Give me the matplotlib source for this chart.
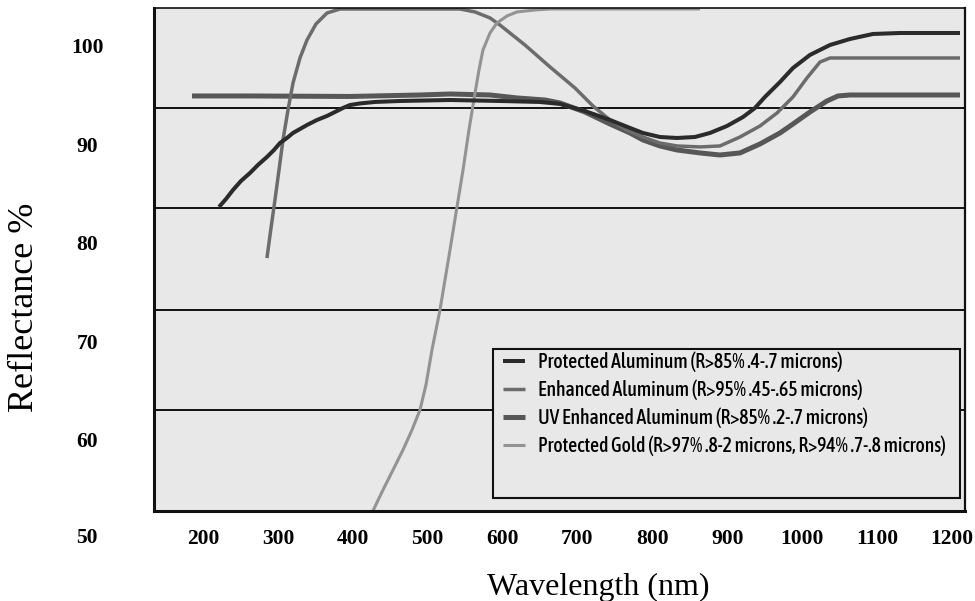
import matplotlib
matplotlib.use("Agg")
import matplotlib.pyplot as plt
from matplotlib.patches import Rectangle
from matplotlib import font_manager as fm
from matplotlib.font_manager import FontProperties

# ---- data ----
wl_protected_al = [221.4, 230.7, 240.1, 250.7, 262.7, 273.4, 285.4, 294.8, 302.8, 312.1, 320.2, 329.5, 338.9,
                   352.2, 365.6, 376.2, 386.9, 396.3, 409.6, 429.6, 463.0, 529.8, 596.5, 649.9, 676.6, 710.0,
                   743.4, 770.1, 787.4, 810.1, 832.8, 856.9, 876.9, 899.6, 921.0, 937.0, 950.3, 970.4, 987.7,
                   1010.4, 1037.1, 1063.8, 1094.5, 1130.6, 1210.7]
r_protected_al = [83.64, 84.45, 85.37, 86.28, 87.09, 87.91, 88.72, 89.43, 90.14, 90.65, 91.16, 91.56, 91.97,
                  92.48, 92.89, 93.29, 93.70, 94.00, 94.16, 94.31, 94.41, 94.51, 94.41, 94.31, 94.11, 93.39,
                  92.48, 91.67, 91.16, 90.75, 90.65, 90.75, 91.16, 91.87, 92.78, 93.70, 94.82, 96.34, 97.76,
                  99.09, 100.10, 100.71, 101.22, 101.32, 101.32]

wl_enhanced_al = [285.4, 290.8, 296.1, 301.5, 306.8, 313.5, 320.2, 329.5, 338.9, 350.9, 365.6, 382.9, 543.1,
                  563.2, 583.2, 596.5, 629.9, 663.3, 696.7, 720.7, 743.4, 763.4, 787.4, 810.1, 832.8, 863.6,
                  890.2, 917.0, 943.7, 966.4, 987.7, 1006.4, 1023.8, 1037.1, 1210.7]
r_enhanced_al = [78.45, 81.50, 84.35, 87.40, 90.45, 93.50, 96.24, 98.78, 100.61, 102.24, 103.35, 103.76, 103.76,
                 103.46, 102.85, 102.13, 100.10, 97.87, 95.73, 93.90, 92.48, 91.56, 90.75, 90.14, 89.84, 89.74,
                 89.84, 90.75, 91.87, 93.19, 94.82, 96.75, 98.37, 98.78, 98.78]

wl_uv_al = [185.3, 262.7, 396.3, 489.7, 529.8, 583.2, 619.2, 656.6, 676.6, 710.0, 743.4, 770.1, 787.4, 810.1,
            832.8, 863.6, 890.2, 917.0, 943.7, 970.4, 987.7, 1010.4, 1033.1, 1047.8, 1063.8, 1210.7]
r_uv_al = [94.92, 94.92, 94.87, 95.02, 95.12, 95.02, 94.72, 94.51, 94.21, 93.29, 92.07, 91.16, 90.45, 89.84,
           89.43, 89.13, 88.92, 89.13, 90.04, 91.16, 92.07, 93.29, 94.41, 94.92, 95.02, 95.02]

wl_gold = [425.6, 440.3, 453.7, 467.0, 479.0, 489.7, 497.7, 505.7, 516.4, 523.1, 529.8, 539.1, 547.2, 555.1,
           563.2, 568.5, 573.8, 583.2, 592.5, 605.9, 619.2, 643.2, 663.3, 863.6]
r_gold = [52.54, 54.88, 56.91, 58.94, 60.97, 63.01, 65.55, 69.10, 73.17, 76.22, 79.27, 83.64, 87.40, 91.46,
          95.22, 97.56, 99.59, 101.32, 102.34, 103.05, 103.46, 103.66, 103.76, 103.76]

grid_levels = [93.7, 83.5, 73.2, 63.0]

x_ticks = [200, 300, 400, 500, 600, 700, 800, 900, 1000, 1100, 1200]
y_ticks = [60, 70, 80, 90, 100]
y_extra_label = 50

series_names = [
    "Protected Aluminum (R>85% .4-.7 microns)",
    "Enhanced Aluminum (R>95% .45-.65 microns)",
    "UV Enhanced Aluminum (R>85% .2-.7 microns)",
    "Protected Gold (R>97% .8-2 microns, R>94% .7-.8 microns)",
]

# ---- pick a narrow sans font for the legend if one is installed ----
def pick_narrow_font():
    bad = ("bold", "italic", "oblique", "light", "thin", "black", "heavy", "extra", "semi")
    pref = ["narrow", "condensed"]
    best = None
    for f in fm.fontManager.ttflist:
        fn = f.fname.lower().replace("\\", "/").split("/")[-1]
        if not any(p in fn or p in f.name.lower() for p in pref):
            continue
        if "mono" in fn or "serif" in fn or "cjk" in fn:
            continue
        if any(b in fn for b in bad) and "medium" not in fn:
            continue
        score = 0
        if "medium" in fn:
            score += 2
        if "regular" in fn or fn.endswith("narrow.ttf") or fn.endswith("condensed.ttf"):
            score += 1
        if best is None or score > best[0]:
            best = (score, f.fname)
    return best[1] if best else None

narrow_path = pick_narrow_font()

# ---- figure ----
W, H = 975, 601
fig = plt.figure(figsize=(W / 100, H / 100), dpi=100)
fig.patch.set_facecolor("white")
L, R, T, B = 154, 965, 8, 511
ax = fig.add_axes([L / W, 1 - B / H, (R - L) / W, (B - T) / H])
bg = "#e8e8e8"
ax.set_facecolor(bg)
ax.set_xlim(134.6, 1217.4)
ax.set_ylim(52.74, 103.86)

for g in grid_levels:
    ax.axhline(g, color="#111111", lw=1.4, zorder=1)

ax.plot(wl_uv_al, r_uv_al, color="#575757", lw=3.6, zorder=3, solid_capstyle="butt", label=series_names[2])
ax.plot(wl_protected_al, r_protected_al, color="#2b2b2b", lw=2.9, zorder=4, solid_capstyle="butt", label=series_names[0])
ax.plot(wl_enhanced_al, r_enhanced_al, color="#6c6c6c", lw=2.5, zorder=3, solid_capstyle="butt", label=series_names[1])
ax.plot(wl_gold, r_gold, color="#939393", lw=2.2, zorder=3, solid_capstyle="butt", label=series_names[3])

for s, lw in zip(["left", "bottom", "top", "right"], [2.2, 2.2, 1.2, 1.6]):
    ax.spines[s].set_linewidth(lw)
    ax.spines[s].set_color("#111111")
    ax.spines[s].set_zorder(6)

tick_font = dict(family=["Liberation Serif", "DejaVu Serif"], weight="bold", size=15.5)
ax.set_xticks(x_ticks)
ax.set_xticklabels([str(v) for v in x_ticks], fontdict=tick_font)
ax.set_yticks(y_ticks)
ax.set_yticklabels([str(v) for v in y_ticks], fontdict=tick_font, ha="center")
ax.tick_params(axis="x", length=0, pad=13)
ax.tick_params(axis="y", length=0, pad=48)
ax.text(-(L - 87) / (R - L), y_extra_label, str(y_extra_label), transform=ax.get_yaxis_transform(),
        ha="center", va="center", fontdict=tick_font, clip_on=False)

lab_font = dict(family=["Liberation Serif", "DejaVu Serif"])
ax.set_xlabel("Wavelength (nm)", fontsize=23, **lab_font)
ax.xaxis.set_label_coords((598 - L) / (R - L), -(587 - B) / (B - T))
ax.xaxis.label.set_va("center")
ax.set_ylabel("Reflectance %", fontsize=26, **lab_font)
ax.yaxis.set_label_coords(-(L - 25) / (R - L), (B - 307) / (B - T))
ax.yaxis.label.set_va("center")

# legend box
rect = Rectangle(((493 - L) / (R - L), (B - 498) / (B - T)), (960 - 493) / (R - L), (498 - 349) / (B - T),
                 transform=ax.transAxes, facecolor=bg, edgecolor="#111111", lw=1.5, zorder=7)
ax.add_patch(rect)

handles, labels = ax.get_legend_handles_labels()
order = [labels.index(n) for n in series_names]
hs = [handles[i] for i in order]
ls_ = [labels[i] for i in order]

# target legend geometry (pixels, top-left origin)
tgt_text_left, tgt_text_right = 538, 945
tgt_first_center, tgt_pitch = 362, 28
tgt_handle_left, tgt_handle_len = 503, 22

size = 13.0
spacing = 0.45
ax_x = (tgt_handle_left - L) / (R - L)
ax_y = (B - 352) / (B - T)
leg = None
for it in range(4):
    if leg is not None:
        leg.remove()
    if narrow_path:
        prop = FontProperties(fname=narrow_path, size=size)
    else:
        prop = FontProperties(family=["Roboto", "DejaVu Sans"], size=size)
    fs_px = size * 100 / 72
    leg = ax.legend(hs, ls_, loc="upper left", bbox_to_anchor=(ax_x, ax_y), frameon=False, borderpad=0,
                    borderaxespad=0, handlelength=tgt_handle_len / fs_px,
                    handletextpad=(tgt_text_left - tgt_handle_left - tgt_handle_len) / fs_px,
                    labelspacing=spacing, prop=prop)
    leg.set_zorder(8)
    fig.canvas.draw()
    rend = fig.canvas.get_renderer()
    ext = [t.get_window_extent(rend) for t in leg.get_texts()]
    width = ext[3].width
    size = size * (tgt_text_right - tgt_text_left) / width
    pitch = (ext[0].y0 + ext[0].y1) / 2 - (ext[1].y0 + ext[1].y1) / 2
    spacing = max(0.0, spacing + (tgt_pitch - pitch) / fs_px)
    cur_center = H - (ext[0].y0 + ext[0].y1) / 2
    ax_y -= (tgt_first_center - cur_center) / (B - T)
    ax_x += (tgt_text_left - ext[0].x0) / (R - L)

fig.savefig("out.png", dpi=100)
